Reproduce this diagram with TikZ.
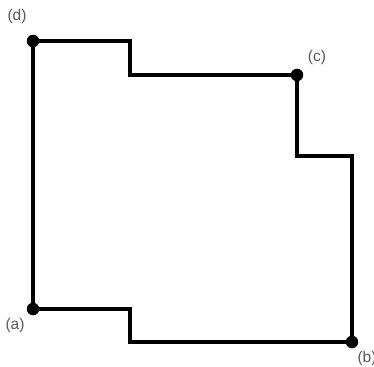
\documentclass[tikz,border=0pt]{standalone}
\usepackage{fontspec}
\setmainfont{Liberation Sans}
\usepackage{tikz}
\usetikzlibrary{positioning}
\definecolor{labelgray}{RGB}{88,88,98}
\tikzstyle{corner} = [circle,fill=black,inner sep=0pt,minimum size=12.5pt]
\tikzstyle{tag} = [text=labelgray,font=\fontsize{15.5}{18}\selectfont,inner sep=0pt]
\tikzstyle{wall} = [line width=3.2pt,line join=miter]

\begin{document}
\begin{tikzpicture}[x=1pt,y=-1pt]
	\useasboundingbox (0,0) rectangle (374,366);
	\def \step {130}
	% corner points
	\node (d) at (33,41) [corner] {};
	\node (c) at (297,75) [corner] {};
	\node (a) at (33,309) [corner] {};
	\node (b) at (352,342) [corner] {};
	\coordinate (s1) at (\step,75);
	\coordinate (s2) at (352,156);
	\coordinate (s3) at (\step,309);
	% outline
	\draw [wall] (d.center) -| (s1) -- (c.center) |- (s2) -- (b.center) -| (s3) -- (a.center) -- cycle;
	\node (ld) at (17,16) [tag] {(d)};
	\node (lc) at (317,57) [tag] {(c)};
	\node (la) at (15,325) [tag] {(a)};
	\node (lb) at (367,358) [tag] {(b)};
\end{tikzpicture}
\end{document}
